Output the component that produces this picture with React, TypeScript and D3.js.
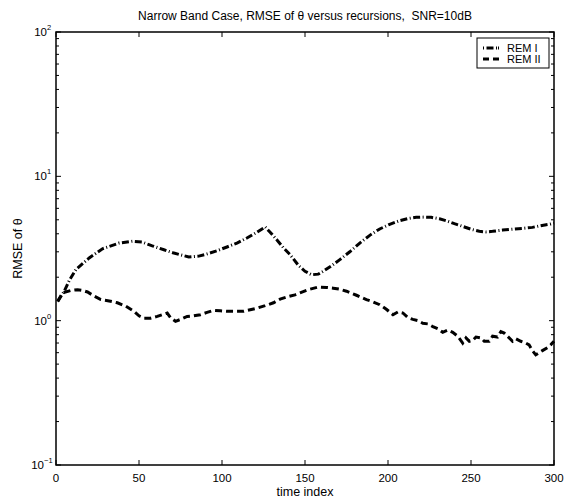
import React from "react";
import * as d3 from "d3";

const title = "Narrow Band Case, RMSE of \u03B8 versus recursions,  SNR=10dB";
const xLabel = "time index";
const yLabel = "RMSE of \u03B8";
const xTicks = [0, 50, 100, 150, 200, 250, 300];
const yDecades = [-1, 0, 1, 2];
const seriesNames = ["REM I", "REM II"];

const remIt = [1, 5, 8, 12, 20, 28, 38, 46, 52, 58, 65, 71, 80, 86, 91, 97, 103, 109, 115, 121, 126, 129, 133, 137, 141, 146, 150, 154, 158, 161, 166, 171, 177, 183, 189, 195, 201, 207, 212, 217, 222, 226, 231, 235, 240, 245, 250, 255, 259, 263, 269, 275, 281, 287, 292, 298, 300];
const remIv = [1.36, 1.6, 1.9, 2.26, 2.72, 3.15, 3.45, 3.55, 3.5, 3.3, 3.1, 2.94, 2.76, 2.8, 2.9, 3.05, 3.24, 3.45, 3.74, 4.1, 4.46, 4.1, 3.64, 3.2, 2.87, 2.42, 2.2, 2.08, 2.1, 2.2, 2.4, 2.65, 3.0, 3.45, 3.9, 4.32, 4.65, 4.93, 5.1, 5.2, 5.22, 5.2, 5.08, 4.93, 4.7, 4.5, 4.3, 4.16, 4.12, 4.16, 4.24, 4.3, 4.36, 4.43, 4.55, 4.68, 4.75];

const remIIt = [1, 4, 9, 13, 16, 19, 23, 27, 32, 37, 42, 47, 50, 53, 57, 61, 64, 67, 69, 72, 75, 79, 83, 87, 91, 95, 99, 103, 108, 113, 117, 121, 126, 131, 135, 140, 144, 147, 152, 158, 163, 167, 171, 175, 181, 187, 191, 195, 199, 203, 206, 209, 212, 215, 218, 221, 224, 227, 230, 233, 236, 239, 242, 245, 247, 249, 251, 253, 256, 258, 261, 263, 266, 268, 270, 272, 275, 277, 280, 283, 285, 287, 289, 291, 293, 296, 298, 300];
const remIIv = [1.36, 1.56, 1.62, 1.64, 1.62, 1.58, 1.48, 1.4, 1.37, 1.33, 1.26, 1.16, 1.08, 1.04, 1.04, 1.07, 1.1, 1.13, 1.05, 0.99, 1.02, 1.07, 1.08, 1.1, 1.14, 1.18, 1.17, 1.16, 1.16, 1.16, 1.19, 1.22, 1.27, 1.33, 1.41, 1.47, 1.51, 1.56, 1.64, 1.71, 1.7, 1.68, 1.65, 1.6, 1.5, 1.4, 1.35, 1.29, 1.2, 1.1, 1.15, 1.13, 1.05, 1.02, 1.0, 0.96, 0.95, 0.91, 0.88, 0.83, 0.86, 0.83, 0.78, 0.7, 0.76, 0.72, 0.73, 0.77, 0.76, 0.72, 0.72, 0.78, 0.77, 0.84, 0.82, 0.78, 0.72, 0.75, 0.72, 0.7, 0.68, 0.62, 0.58, 0.6, 0.62, 0.65, 0.68, 0.72];

const W = 566, H = 500;
const L = 56, R = 554, T = 32, B = 465;
const FONT = "'Liberation Sans', Arial, Helvetica, sans-serif";

export default function App() {
  const x = d3.scaleLinear().domain([0, 300]).range([L, R]);
  const y = d3.scaleLog().domain([0.1, 100]).range([B, T]);
  const line = d3.line<[number, number]>().x(d => x(d[0])).y(d => y(d[1]));
  const d1 = line(remIt.map((t, i) => [t, remIv[i]] as [number, number])) || "";
  const d2 = line(remIIt.map((t, i) => [t, remIIv[i]] as [number, number])) || "";

  const minor: number[] = [];
  for (let e = -1; e < 2; e++) for (let k = 2; k <= 9; k++) minor.push(k * Math.pow(10, e));

  const dashDot = "7,2.5,1,2.5";
  const dashed = "7,4";

  return (
    <svg width={W} height={H} style={{ position: "absolute", left: 0, top: 0, background: "#fff" }} fontFamily={FONT}>
      <rect x={0} y={0} width={W} height={H} fill="#fff" />
      {/* curves */}
      <path d={d1} fill="none" stroke="#000" strokeWidth={3} strokeDasharray={dashDot} />
      <path d={d2} fill="none" stroke="#000" strokeWidth={3} strokeDasharray={dashed} />
      {/* x ticks */}
      {xTicks.map(t => (
        <g key={"x" + t}>
          <line x1={x(t)} x2={x(t)} y1={B} y2={B - 5} stroke="#000" strokeWidth={1} />
          <line x1={x(t)} x2={x(t)} y1={T} y2={T + 5} stroke="#000" strokeWidth={1} />
          <text x={x(t)} y={482} fontSize={11.5} textAnchor="middle">{t}</text>
        </g>
      ))}
      {/* y ticks */}
      {yDecades.map(e => {
        const yy = y(Math.pow(10, e));
        return (
          <g key={"y" + e}>
            <line x1={L} x2={L + 5} y1={yy} y2={yy} stroke="#000" strokeWidth={1} />
            <line x1={R} x2={R - 5} y1={yy} y2={yy} stroke="#000" strokeWidth={1} />
            <text x={e < 0 ? 44 : 47} y={yy + 4} fontSize={11.5} textAnchor="end">10</text>
            <text x={e < 0 ? 44 : 47} y={yy - 2} fontSize={7.5} textAnchor="start">{String(e).replace("-", "\u2212")}</text>
          </g>
        );
      })}
      {minor.map(v => (
        <g key={"m" + v}>
          <line x1={L} x2={L + 3} y1={y(v)} y2={y(v)} stroke="#000" strokeWidth={1} />
          <line x1={R} x2={R - 3} y1={y(v)} y2={y(v)} stroke="#000" strokeWidth={1} />
        </g>
      ))}
      {/* frame */}
      <rect x={L} y={T} width={R - L} height={B - T} fill="none" stroke="#000" strokeWidth={1.5} />
      {/* labels */}
      <text x={(L + R) / 2} y={20} fontSize={12} textAnchor="middle" style={{ whiteSpace: "pre" }}>{title}</text>
      <text x={(L + R) / 2} y={496} fontSize={12.5} textAnchor="middle">{xLabel}</text>
      <text transform={`translate(22,${(T + B) / 2}) rotate(-90)`} fontSize={12.5} textAnchor="middle">{yLabel}</text>
      {/* legend */}
      <rect x={477} y={38} width={72} height={30} fill="#fff" stroke="#000" strokeWidth={1} />
      <line x1={483} x2={499} y1={48} y2={48} stroke="#000" strokeWidth={3} strokeDasharray="1,2.5,7,2.5,1" />
      <text x={507} y={52} fontSize={11}>{seriesNames[0]}</text>
      <line x1={483} x2={499} y1={59} y2={59} stroke="#000" strokeWidth={3} strokeDasharray="6,4,6" />
      <text x={507} y={63} fontSize={11}>{seriesNames[1]}</text>
    </svg>
  );
}
